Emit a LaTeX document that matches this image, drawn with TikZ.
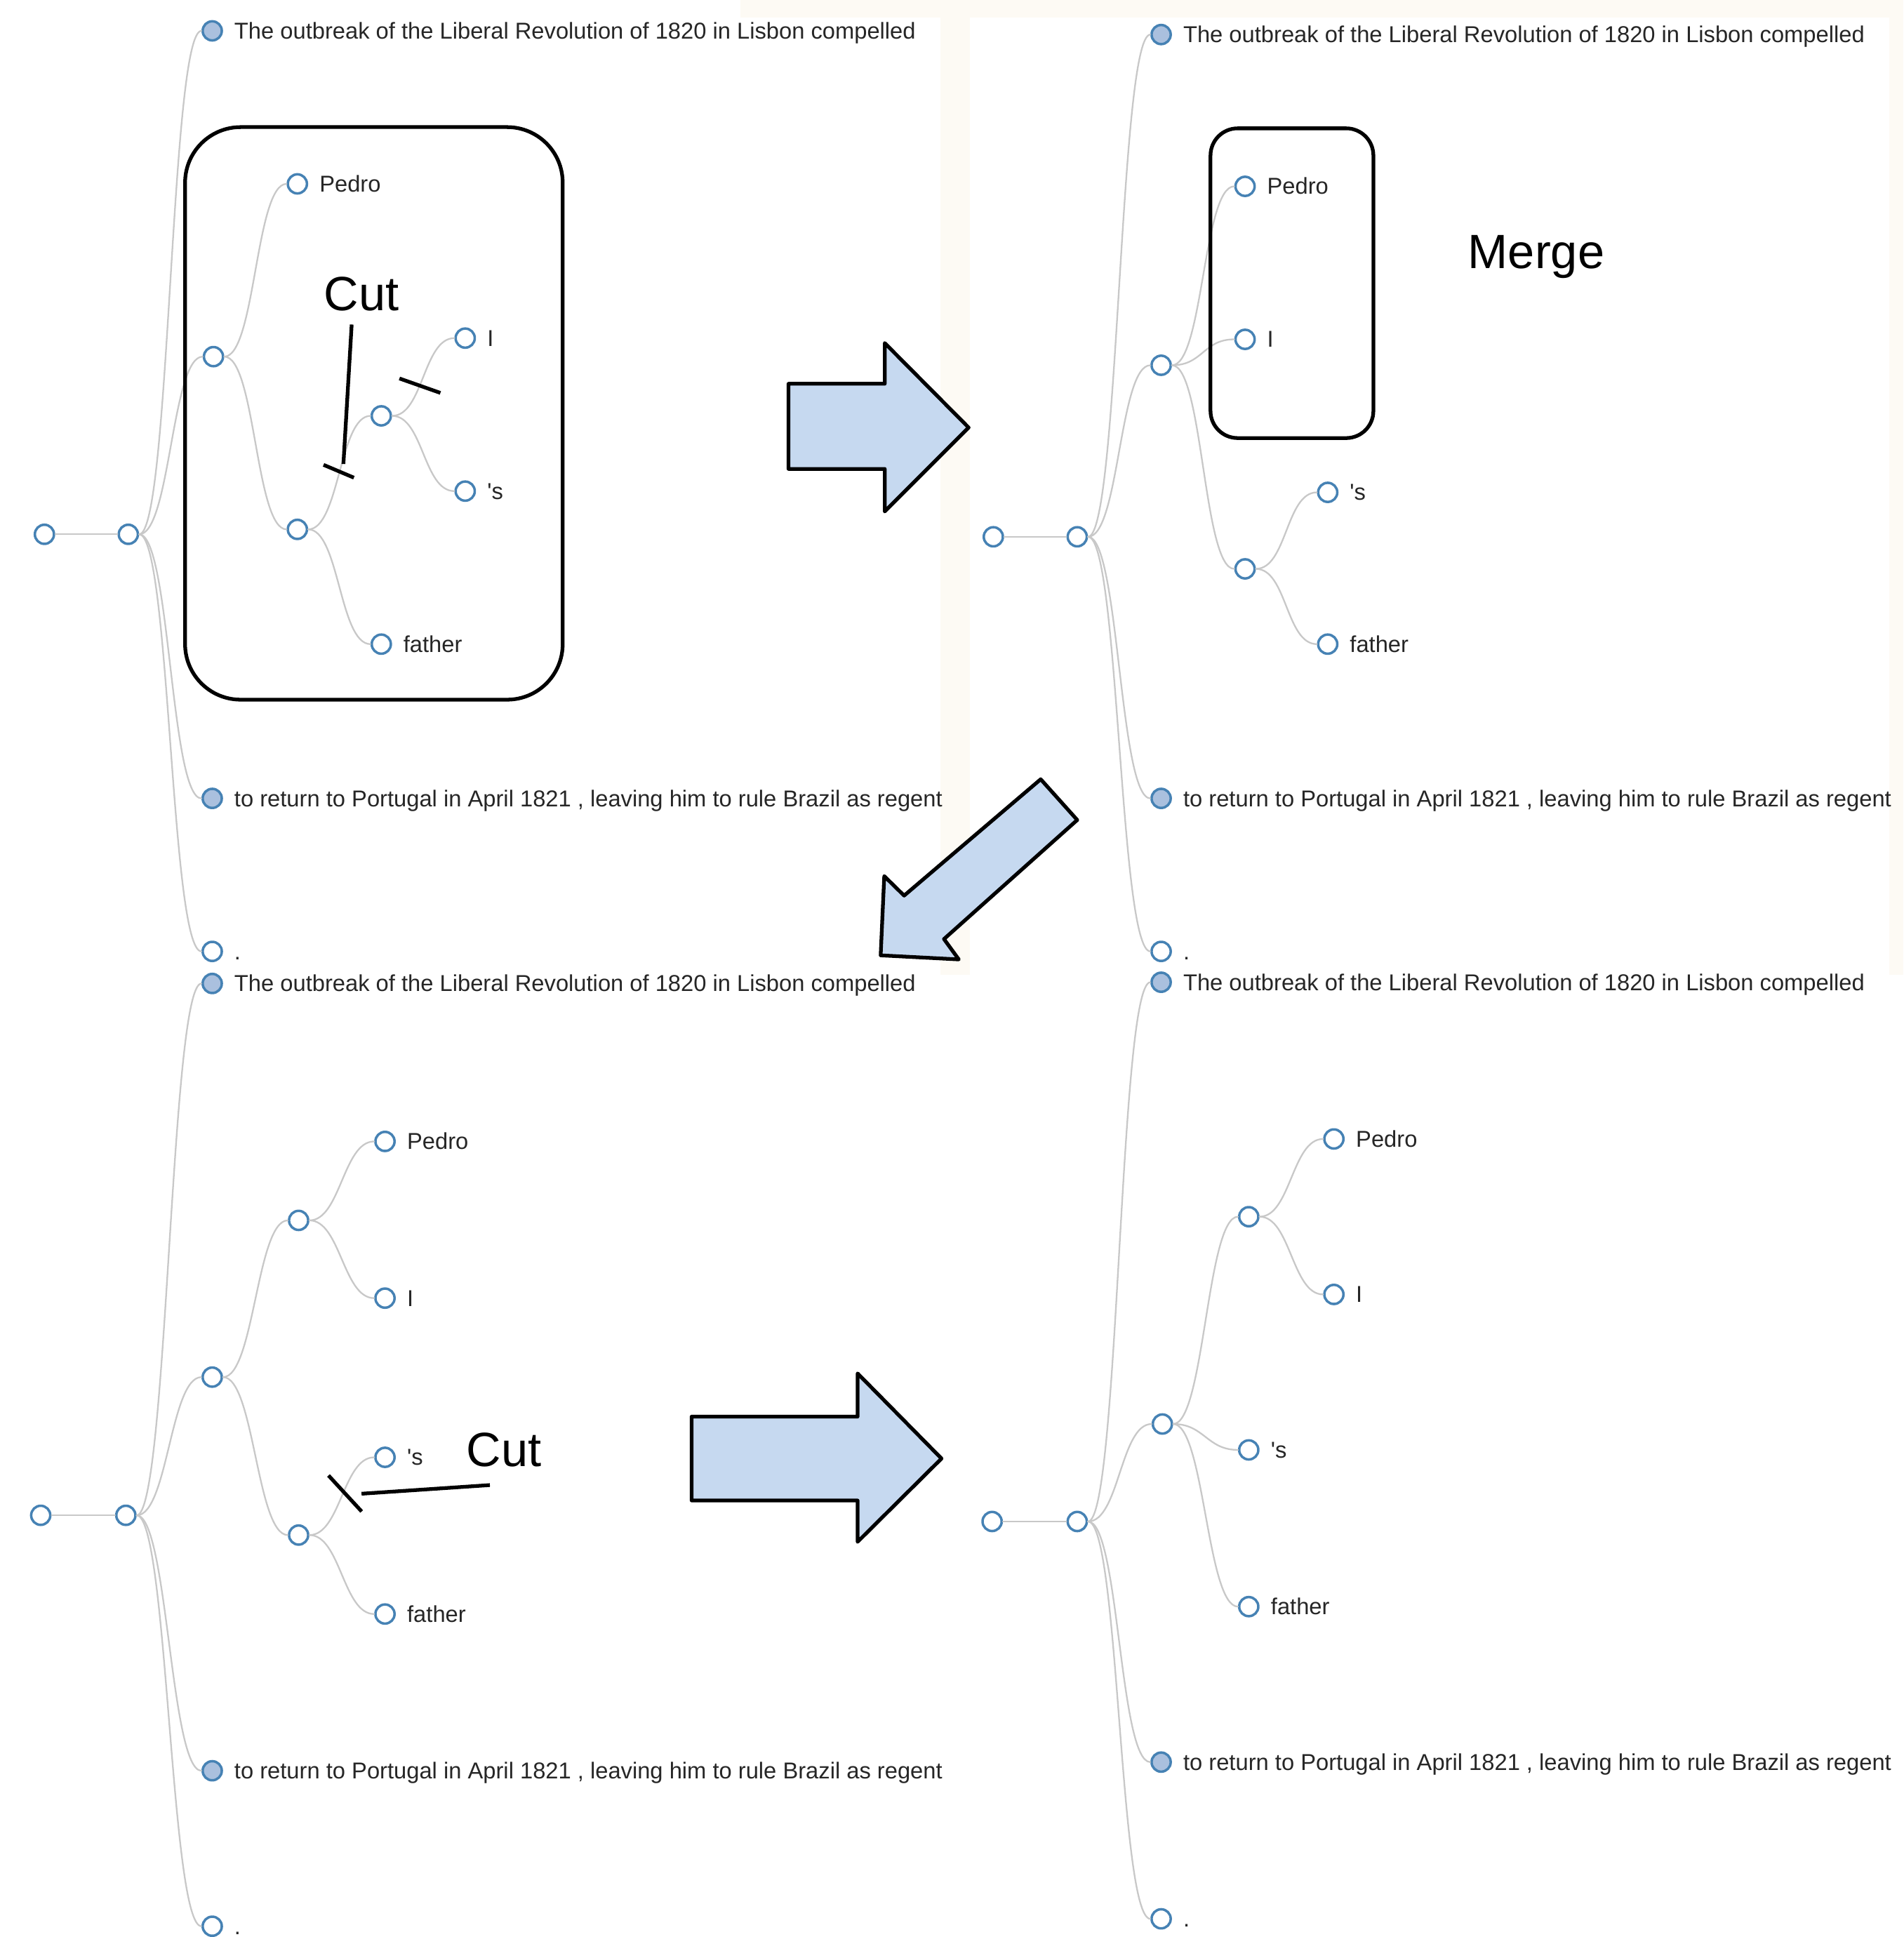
\documentclass[tikz,border=0pt]{standalone}
\usepackage{fontspec}
\setmainfont{Liberation Sans}
\newfontfamily\labfont{Liberation Sans}
\usepackage{tikz}
\definecolor{steel}{RGB}{70,130,180}
\definecolor{lsteel}{RGB}{170,192,222}
\definecolor{linkgray}{RGB}{200,200,200}
\definecolor{arrowfill}{RGB}{198,217,240}
\definecolor{cream}{RGB}{253,250,244}
\newcommand{\firstpart}{The outbreak of the Liberal Revolution of 1820 in Lisbon compelled}
\newcommand{\secondpart}{to return to Portugal in April 1821 , leaving him to rule Brazil as regent}

\begin{document}
\begin{tikzpicture}[line cap=round,line join=round,x=1pt,y=-1pt,
    tn/.style={circle,draw=steel,fill=white,line width=2pt,minimum size=15.5pt,inner sep=0pt},
    tc/.style={tn,fill=lsteel},
    lab/.style={text=black!85,inner sep=0pt,text height=0.7em,text depth=0pt,yshift=-3pt,
      font=\labfont\fontsize{18.6}{22}\selectfont},
    every label/.style={lab},label distance=9pt,
    link/.style={draw=linkgray,line width=1.3pt,to path={.. controls +(34,0) and +(-34,0) .. (\tikztotarget)}},
    bigtext/.style={inner sep=0pt,font=\fontsize{39}{45}\selectfont},
    cutline/.style={line width=3pt,line cap=butt},
    grpbox/.style={line width=3pt,rounded corners=#1},
    blockarrow/.style={draw=black,line width=3pt,fill=arrowfill}]
      % page and screenshot backgrounds
      \fill[white] (0,0) rectangle (1542.5,1568);
      \fill[cream] (600,0) rectangle (1542.5,14);
      \fill[cream] (762,14) rectangle (786,790);
      \fill[cream] (1531,14) rectangle (1542.5,790);
      % the part shared by all four trees
      \foreach \p/\rx/\hx/\cx/\ry/\oy/\ty/\dy in {1/36/104/172/433/25/647/771,
          2/805/873/941/435/28/647/771,3/33/102/172/1228/797/1435/1561,
          4/804/873/941/1233/796/1428/1555}{
        \node[tn] (root\p) at (\rx,\ry) {};
        \node[tn] (hub\p) at (\hx,\ry) {};
        \node[tc,label=right:\firstpart] (out\p) at (\cx,\oy) {};
        \node[tc,label=right:\secondpart] (ret\p) at (\cx,\ty) {};
        \node[tn,label=right:.] (dot\p) at (\cx,\dy) {};
        \draw[link] (root\p) to (hub\p);
        \foreach \q in {out,ret,dot}
          \draw[link] (hub\p) to (\q\p);
      }
      % top left: before the cut
      \node[tn] (grp1) at (173,289) {};
      \node[tn,label=right:Pedro] (pedro1) at (241,149) {};
      \node[tn] (sub1) at (241,429) {};
      \node[tn] (pair1) at (309,337) {};
      \node[tn,label=right:I] (i1) at (377,274) {};
      \node[tn,label=right:'s] (s1) at (377,398) {};
      \node[tn,label=right:father] (father1) at (309,522) {};
      \foreach \a/\b in {hub1/grp1,grp1/pedro1,grp1/sub1,sub1/pair1,sub1/father1,pair1/i1,pair1/s1}
        \draw[link] (\a) to (\b);
      \draw[grpbox=45pt] (150,103) rectangle (456,567);
      \node[bigtext] (cut1) at (293,238) {Cut};
      \draw[cutline] (285,263) -- (278.3,376);
      \draw[cutline] (262.2,376.7) -- (286.8,387.1);
      \draw[cutline] (323.7,306.7) -- (356.9,318.4);
      % top right: merge
      \node[tn] (grp2) at (941,296) {};
      \node[tn,label=right:Pedro] (pedro2) at (1009,151) {};
      \node[tn,label=right:I] (i2) at (1009,275) {};
      \node[tn] (sub2) at (1009,461) {};
      \node[tn,label=right:'s] (s2) at (1076,399) {};
      \node[tn,label=right:father] (father2) at (1076,522) {};
      \foreach \a/\b in {hub2/grp2,grp2/pedro2,grp2/i2,grp2/sub2,sub2/s2,sub2/father2}
        \draw[link] (\a) to (\b);
      \draw[grpbox=22pt] (981,104) rectangle (1113,355);
      \node[bigtext] (merge) at (1245,208) {Merge};
      % bottom left: second cut
      \node[tn] (grp3) at (172,1116) {};
      \node[tn] (pair3) at (242,989) {};
      \node[tn,label=right:Pedro] (pedro3) at (312,925) {};
      \node[tn,label=right:I] (i3) at (312,1052) {};
      \node[tn] (sub3) at (242,1244) {};
      \node[tn,label=right:'s] (s3) at (312,1181) {};
      \node[tn,label=right:father] (father3) at (312,1308) {};
      \foreach \a/\b in {hub3/grp3,grp3/pair3,pair3/pedro3,pair3/i3,grp3/sub3,sub3/s3,sub3/father3}
        \draw[link] (\a) to (\b);
      \node[bigtext] (cut3) at (408.5,1175) {Cut};
      \draw[cutline] (397,1203.5) -- (293,1210.5);
      \draw[cutline] (266.2,1195.7) -- (293.1,1224.9);
      % bottom right: result
      \node[tn] (grp4) at (942,1154) {};
      \node[tn] (pair4) at (1012,986) {};
      \node[tn,label=right:Pedro] (pedro4) at (1081,923) {};
      \node[tn,label=right:I] (i4) at (1081,1049) {};
      \node[tn,label=right:'s] (s4) at (1012,1175) {};
      \node[tn,label=right:father] (father4) at (1012,1302) {};
      \foreach \a/\b in {hub4/grp4,grp4/pair4,pair4/pedro4,pair4/i4,grp4/s4,grp4/father4}
        \draw[link] (\a) to (\b);
      % block arrows
      \draw[blockarrow] (639,311) -- (717,311) -- (717,278) -- (785,346.5) -- (717,414.5) -- (717,380) -- (639,380) -- cycle;
      \draw[blockarrow] (843.4,631.5) -- (873,664.5) -- (765,761) -- (777,777.5) -- (713.7,774.2) -- (716.6,710) -- (732.7,725.8) -- cycle;
      \draw[blockarrow] (560.5,1148) -- (695,1148) -- (695,1113) -- (763,1182) -- (695,1249.5) -- (695,1216) -- (560.5,1216) -- cycle;
    \end{tikzpicture}
\end{document}
